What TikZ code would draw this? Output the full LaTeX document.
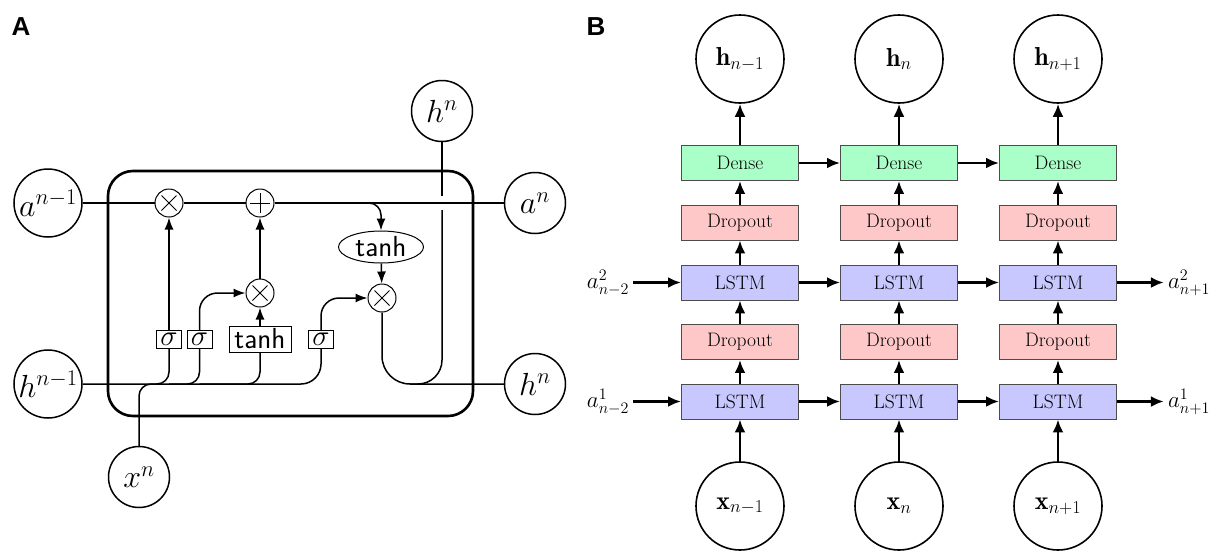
\RequirePackage{fix-cm}
\documentclass[tikz,border=0pt]{standalone}
\usepackage{fontspec}
\newfontfamily\panelfont{Liberation Sans}
\usetikzlibrary{arrows.meta,shapes.geometric}
\definecolor{densec}{RGB}{170,255,200}
\definecolor{dropc}{RGB}{255,200,200}
\definecolor{lstmc}{RGB}{200,200,255}
\begin{document}
\begin{tikzpicture}[x=1pt,y=-1pt,
  thinl/.style={line width=1.5pt},
  arrA/.style={line width=1.5pt,-{Latex[length=12pt,width=9pt]}},
  bigc/.style={circle,draw,line width=1.5pt,inner sep=0pt,font=\fontsize{32}{32}\selectfont},
  op/.style={circle,draw,line width=1pt,minimum size=28pt,inner sep=0pt},
  mul/.style={op,path picture={\draw[line width=0.9pt]
      ([shift={(-7.5pt,-7.5pt)}]path picture bounding box.center) -- ([shift={(7.5pt,7.5pt)}]path picture bounding box.center)
      ([shift={(-7.5pt,7.5pt)}]path picture bounding box.center) -- ([shift={(7.5pt,-7.5pt)}]path picture bounding box.center);}},
  add/.style={op,path picture={\draw[line width=0.9pt]
      ([shift={(-10pt,0pt)}]path picture bounding box.center) -- ([shift={(10pt,0pt)}]path picture bounding box.center)
      ([shift={(0pt,-10pt)}]path picture bounding box.center) -- ([shift={(0pt,10pt)}]path picture bounding box.center);}},
  gate/.style={draw,line width=0.9pt,inner sep=0pt,minimum width=25pt,minimum height=18pt,font=\fontsize{29}{29}\selectfont},
  ell/.style={ellipse,draw,line width=1pt,inner sep=0pt,minimum width=85pt,minimum height=32pt,font=\fontsize{29}{29}\selectfont},
  bbox/.style={draw=black!70,line width=0.9pt,minimum width=117pt,minimum height=35pt,inner sep=0pt,font=\fontsize{19.5}{19.5}\selectfont},
  arrB/.style={line width=2.6pt,-{Latex[length=13pt,width=11pt]}},
  ioc/.style={circle,draw,line width=1.6pt,minimum size=88pt,inner sep=0pt,font=\fontsize{26}{26}\selectfont},
  alab/.style={inner sep=4pt,font=\fontsize{23}{23}\selectfont},
  plab/.style={font=\panelfont\bfseries\fontsize{26}{26}\selectfont}
]
\useasboundingbox (0,0) rectangle (1220,552);

% ---------- Panel A ----------
\node[plab] (lA) at (21,27) {A};
\draw[line width=2.6pt,rounded corners=25pt] (108,171) rectangle (473,416);

\node[bigc,minimum size=68pt] (ap) at (48,203) {$a^{n-1}$};
\node[bigc,minimum size=68pt] (hp) at (48,384) {$h^{n-1}$};
\node[bigc,minimum size=61pt] (an) at (535,203) {$a^{n}$};
\node[bigc,minimum size=61pt] (hn) at (535,384) {$h^{n}$};
\node[bigc,minimum size=61pt] (ht) at (442,111) {$h^{n}$};
\node[bigc,minimum size=61pt] (xn) at (139,477) {$x^{n}$};

\node[mul] (m1) at (169,203) {};
\node[add] (p1) at (260,203) {};
\node[mul] (m2) at (260,293) {};
\node[mul] (m3) at (382,298) {};
\node[ell] (th) at (381,247) {\textsf{tanh}};
\node[gate] (s1) at (169,339.5) {$\sigma$};
\node[gate] (s2) at (199.5,339.5) {$\sigma$};
\node[gate,minimum width=62pt,minimum height=26pt] (tb) at (260,339) {\textsf{tanh}};
\node[gate] (s3) at (321,339.5) {$\sigma$};

\coordinate (tb0) at (352,203);
\coordinate (g1) at (442,196);
\coordinate (g2) at (442,210);
\coordinate (g3) at (410,384);

% top line
\draw[thinl] (ap) -- (m1) -- (p1) -- (an);
\draw[arrA,rounded corners=12pt] (tb0) -| (th.north);
\draw[arrA] (th) -- (m3);
\draw[arrA] (m2) -- (p1);
\draw[arrA] (s1) -- (m1);
\draw[arrA] (tb) -- (m2);

% bottom line and branches
\draw[thinl,rounded corners=20pt] (hp.east) -| (s3.south);
\draw[thinl,rounded corners=12pt] (xn.north) |- (s1.south |- hp.east) -- (s1.south);
\draw[thinl,rounded corners=12pt] (s1.south |- hp.east) -| (s2.south);
\draw[thinl,rounded corners=12pt] (s2.south |- hp.east) -| (tb.south);
\draw[arrA,rounded corners=18pt] (s2.north) |- (m2.west);
\draw[arrA,rounded corners=18pt] (s3.north) |- (m3.west);
\draw[thinl,rounded corners=28pt] (m3.south) |- (hn.west);
\draw[thinl] (ht.south) -- (g1);
\draw[thinl,rounded corners=24pt] (g2) |- (g3);

% ---------- Panel B ----------
\node[plab] (lB) at (596,27) {B};
\foreach \i/\x/\s in {1/740/n-1,2/899/n,3/1058/n+1}{
  \node[ioc] (H\i) at (\x,59) {$\mathbf{h}_{\s}$};
  \node[bbox,fill=densec] (D\i) at (\x,163) {Dense};
  \node[bbox,fill=dropc] (P\i) at (\x,222.5) {Dropout};
  \node[bbox,fill=lstmc] (U\i) at (\x,282.5) {LSTM};
  \node[bbox,fill=dropc] (Q\i) at (\x,342) {Dropout};
  \node[bbox,fill=lstmc] (L\i) at (\x,401.5) {LSTM};
  \node[ioc] (X\i) at (\x,506) {$\mathbf{x}_{\s}$};
  \draw[arrB] (X\i) -- (L\i);
  \draw[arrB] (L\i) -- (Q\i);
  \draw[arrB] (Q\i) -- (U\i);
  \draw[arrB] (U\i) -- (P\i);
  \draw[arrB] (P\i) -- (D\i);
  \draw[arrB] (D\i) -- (H\i);
}
\foreach \a/\b in {1/2,2/3}{
  \draw[arrB] (D\a) -- (D\b);
  \draw[arrB] (U\a) -- (U\b);
  \draw[arrB] (L\a) -- (L\b);
}
\node[alab] (a2l) at (608,282.5) {$a^{2}_{n-2}$};
\node[alab] (a1l) at (608,401.5) {$a^{1}_{n-2}$};
\node[alab] (a2r) at (1189,282.5) {$a^{2}_{n+1}$};
\node[alab] (a1r) at (1189,401.5) {$a^{1}_{n+1}$};
\draw[arrB] (a2l) -- (U1);
\draw[arrB] (a1l) -- (L1);
\draw[arrB] (U3) -- (a2r);
\draw[arrB] (L3) -- (a1r);
\end{tikzpicture}
\end{document}
